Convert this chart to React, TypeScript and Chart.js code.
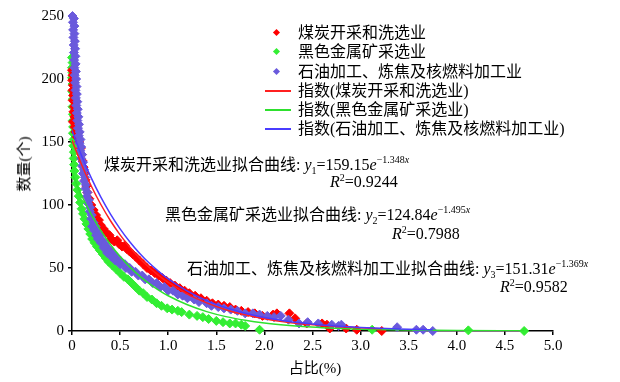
import React, { useEffect, useRef } from 'react';
import { Chart, registerables } from 'chart.js';

Chart.register(...registerables);

// ---- series names ----
const seriesNames = ['煤炭开采和洗选业', '黑色金属矿采选业', '石油加工、炼焦及核燃料加工业'];
const fitNames = ['指数(煤炭开采和洗选业)', '指数(黑色金属矿采选业)', '指数(石油加工、炼焦及核燃料加工业)'];
const fitCoef = ['159.15', '124.84', '151.31'];
const fitExp = ['1.348', '1.495', '1.369'];
const fitR2 = ['0.9244', '0.7988', '0.9582'];
const xTitle = '占比(%)';
const yTitle = '数量(个)';

// ---- scatter values [share %, count] ----
const coalPts: [number, number][] = [
  [0.0, 207], [0.006, 203], [0.002, 199], [0.01, 195], [0.005, 191], [0.012, 187], [0.008, 183], [0.02, 178],
  [0.015, 174], [0.025, 170], [0.01, 166], [0.028, 162], [0.035, 158], [0.05, 154], [0.075, 150], [0.09, 145],
  [0.1, 140], [0.11, 135], [0.12, 130], [0.13, 125], [0.14, 120], [0.15, 115], [0.16, 110], [0.18, 105],
  [0.2, 100], [0.225, 96], [0.25, 92], [0.28, 88], [0.3, 84], [0.33, 81], [0.36, 78], [0.39, 76],
  [0.41, 73], [0.44, 71], [0.47, 72], [0.49, 69], [0.52, 67], [0.55, 68], [0.57, 65], [0.6, 63],
  [0.63, 61], [0.66, 59], [0.7, 56], [0.74, 53], [0.78, 50], [0.82, 48], [0.86, 46], [0.9, 44],
  [0.94, 42], [0.98, 40], [1.02, 38], [1.07, 36], [1.12, 34], [1.17, 32], [1.22, 30], [1.28, 28],
  [1.34, 26], [1.4, 24], [1.46, 22], [1.52, 21], [1.58, 20], [1.64, 19], [1.7, 17], [1.76, 16],
  [1.83, 15], [1.9, 14], [1.98, 12], [2.09, 13], [2.13, 14], [2.26, 14], [2.32, 10], [2.44, 6],
  [2.6, 6], [2.65, 5], [2.68, 2], [2.85, 2], [2.96, 1], [3.22, 0],
];

const ironPts: [number, number][] = [
  [0.0, 217], [0.006, 213], [0.0, 209], [0.005, 205], [0.0, 201], [0.006, 196], [0.003, 190], [0.008, 184],
  [0.005, 178], [0.01, 172], [0.008, 167], [0.012, 162], [0.01, 157], [0.016, 152], [0.014, 147], [0.02, 142],
  [0.018, 137], [0.022, 132], [0.025, 127], [0.035, 122], [0.045, 117], [0.055, 112], [0.07, 107], [0.085, 102],
  [0.1, 97], [0.115, 93], [0.13, 89], [0.15, 85], [0.17, 81], [0.19, 77], [0.21, 73], [0.235, 70],
  [0.26, 67], [0.29, 64], [0.32, 61], [0.35, 58], [0.38, 55], [0.42, 52], [0.46, 49], [0.5, 46],
  [0.54, 43], [0.58, 41], [0.62, 38], [0.66, 35], [0.7, 32], [0.74, 30], [0.78, 27], [0.83, 25],
  [0.88, 22], [0.93, 20], [0.99, 18], [1.04, 17], [1.1, 16], [1.14, 15], [1.22, 13], [1.3, 12],
  [1.36, 11], [1.42, 9.5], [1.5, 8], [1.57, 7], [1.64, 6], [1.7, 6], [1.76, 5], [1.8, 4],
  [1.95, 1], [3.12, 1], [4.12, 0.5], [4.7, 0],
];

const petroPts: [number, number][] = [
  [0.005, 250], [0.02, 248], [0.01, 245], [0.025, 242], [0.012, 239], [0.025, 236], [0.015, 233], [0.03, 230],
  [0.018, 227], [0.032, 224], [0.02, 221], [0.035, 218], [0.022, 215], [0.037, 212], [0.025, 209], [0.04, 206],
  [0.028, 203], [0.043, 200], [0.032, 197], [0.047, 194], [0.036, 191], [0.05, 188], [0.04, 185], [0.055, 182],
  [0.045, 179], [0.06, 176], [0.05, 173], [0.066, 170], [0.056, 167], [0.072, 164], [0.062, 161], [0.08, 158],
  [0.07, 155], [0.088, 152], [0.078, 149], [0.096, 146], [0.086, 143], [0.105, 140], [0.095, 137], [0.115, 134],
  [0.105, 131], [0.125, 128], [0.115, 125], [0.135, 122], [0.125, 119], [0.145, 116], [0.14, 113], [0.16, 110],
  [0.155, 107], [0.175, 104], [0.17, 101], [0.19, 98], [0.185, 95], [0.205, 92], [0.2, 89], [0.225, 86],
  [0.21, 83], [0.245, 83], [0.23, 80], [0.265, 79], [0.25, 76], [0.29, 76], [0.27, 73], [0.315, 72],
  [0.3, 70], [0.345, 69], [0.33, 66], [0.38, 65], [0.365, 62], [0.42, 62], [0.41, 59], [0.46, 59],
  [0.45, 56], [0.5, 56], [0.5, 53], [0.55, 53], [0.56, 50], [0.6, 50], [0.62, 47], [0.66, 47],
  [0.69, 44], [0.73, 44], [0.76, 41], [0.8, 41], [0.84, 38], [0.88, 38], [0.92, 35], [0.96, 35],
  [1.0, 32], [1.05, 32], [1.1, 29], [1.15, 28], [1.2, 26], [1.27, 25], [1.32, 23], [1.4, 22],
  [1.45, 20], [1.52, 19], [1.58, 18], [1.65, 17], [1.72, 16], [1.8, 14], [1.88, 14], [1.95, 13],
  [2.03, 12], [2.1, 11], [2.17, 12], [2.25, 9], [2.36, 6], [2.45, 7], [2.56, 6], [2.7, 5],
  [2.77, 4], [2.8, 5], [3.38, 3], [3.58, 1], [3.65, 1], [3.75, 0],
];

// ---- fitted curves ----
const redFitX = [0, 0.1, 0.2, 0.3, 0.4, 0.5, 0.6, 0.7, 0.8, 0.9, 1.0, 1.2, 1.4, 1.6, 1.8, 2.0, 2.2, 2.4, 2.6, 2.8, 3.0, 3.22];
const redFitY = [151.3, 132.0, 115.1, 100.4, 87.5, 76.3, 66.6, 58.0, 50.6, 44.2, 38.5, 29.3, 22.3, 16.9, 12.9, 9.8, 7.4, 5.7, 4.3, 3.3, 2.5, 1.8];
const greenFitX = [0, 0.1, 0.2, 0.3, 0.4, 0.5, 0.6, 0.7, 0.8, 0.9, 1.0, 1.2, 1.4, 1.6, 1.8, 2.0, 2.2, 2.4, 2.6, 2.8, 3.0, 3.5, 4.0, 4.7];
const greenFitY = [124.8, 107.5, 92.6, 79.7, 68.7, 59.1, 50.9, 43.8, 37.8, 32.5, 28.0, 20.8, 15.4, 11.4, 8.5, 6.3, 4.7, 3.5, 2.6, 1.9, 1.4, 0.7, 0.3, 0.1];
const blueFitX = [0, 0.1, 0.2, 0.3, 0.4, 0.5, 0.6, 0.7, 0.8, 0.9, 1.0, 1.2, 1.4, 1.6, 1.8, 2.0, 2.2, 2.4, 2.6, 2.8, 3.0, 3.2, 3.4, 3.6, 3.75];
const blueFitY = [159.2, 139.1, 121.5, 106.2, 92.8, 81.1, 70.9, 62.0, 54.1, 47.3, 41.3, 31.6, 24.1, 18.4, 14.1, 10.7, 8.2, 6.3, 4.8, 3.7, 2.8, 2.1, 1.6, 1.2, 1.0];

const RED = '#ff0000';
const GREEN = '#33ee33';
const BLUE = '#6a5adc';
const RED_LINE = '#ff2020';
const GREEN_LINE = '#2ee02e';
const BLUE_LINE = '#4a3cff';

const SERIF = "'Liberation Serif', 'Times New Roman', 'Noto Sans CJK SC', serif";
const TICK_FAMILY = 'Liberation Serif';

const pairs = (xs: number[], ys: number[]) => xs.map((x, i) => ({ x, y: ys[i] }));
const pts = (arr: [number, number][]) => arr.map(([x, y]) => ({ x, y }));

function Equation({ left, top, idx }: { left: number; top: number; idx: number }) {
  return (
    <div style={{ position: 'absolute', left, top, fontSize: 16, lineHeight: '18px', whiteSpace: 'nowrap', fontFamily: SERIF, color: '#000' }}>
      {seriesNames[idx]}拟合曲线: <i>y</i>
      <span style={{ fontSize: 10, position: 'relative', top: 4 }}>{idx + 1}</span>={fitCoef[idx]}<i>e</i>
      <span style={{ fontSize: 10, position: 'relative', top: -7 }}>−{fitExp[idx]}<i>x</i></span>
    </div>
  );
}

function R2({ left, top, idx }: { left: number; top: number; idx: number }) {
  return (
    <div style={{ position: 'absolute', left, top, fontSize: 16, lineHeight: '18px', whiteSpace: 'nowrap', fontFamily: SERIF, color: '#000' }}>
      <i>R</i>
      <span style={{ fontSize: 10, position: 'relative', top: -6 }}>2</span>={fitR2[idx]}
    </div>
  );
}

export default function App() {
  const ref = useRef<HTMLCanvasElement>(null);

  useEffect(() => {
    if (!ref.current) return;
    const tickFont = { family: TICK_FAMILY, size: 15 };
    const scatterBase = { pointStyle: 'rectRot' as const, pointRadius: 4.5, pointHoverRadius: 4.5, borderWidth: 1, showLine: false, clip: false as const };
    const lineBase = { showLine: true, pointRadius: 0, borderWidth: 1.5, cubicInterpolationMode: 'monotone' as const, fill: false, order: 0 };
    const chart = new Chart(ref.current, {
      type: 'scatter',
      data: {
        datasets: [
          { ...lineBase, label: fitNames[0], data: pairs(blueFitX, blueFitY), borderColor: BLUE_LINE, backgroundColor: BLUE_LINE },
          { ...lineBase, label: fitNames[2], data: pairs(redFitX, redFitY), borderColor: RED_LINE, backgroundColor: RED_LINE },
          { ...lineBase, label: fitNames[1], data: pairs(greenFitX, greenFitY), borderColor: GREEN_LINE, backgroundColor: GREEN_LINE },
          { ...scatterBase, label: seriesNames[2], data: pts(petroPts), backgroundColor: BLUE, borderColor: BLUE, order: 1 },
          { ...scatterBase, label: seriesNames[0], data: pts(coalPts), backgroundColor: RED, borderColor: RED, order: 2 },
          { ...scatterBase, label: seriesNames[1], data: pts(ironPts), backgroundColor: GREEN, borderColor: GREEN, order: 3 },
        ] as any,
      },
      options: {
        responsive: false,
        animation: false,
        layout: { padding: { top: 16, right: 67, left: 0, bottom: 0 } },
        plugins: { legend: { display: false }, tooltip: { enabled: false } },
        scales: {
          x: {
            type: 'linear',
            min: 0,
            max: 5,
            ticks: {
              stepSize: 0.5,
              color: '#000',
              font: tickFont,
              padding: 2,
              maxRotation: 0,
              autoSkip: false,
              callback: (v: any) => (Number(v) === 0 ? '0' : Number(v).toFixed(1)),
            },
            grid: { drawOnChartArea: false, drawTicks: true, tickLength: 4, color: '#000', lineWidth: 1.5 },
            border: { display: true, color: '#000', width: 1.5 },
            afterFit: (s: any) => { s.height = 51; },
          },
          y: {
            min: 0,
            max: 250,
            ticks: { stepSize: 50, color: '#000', font: tickFont, padding: 4 },
            grid: { drawOnChartArea: false, drawTicks: true, tickLength: 4, color: '#000', lineWidth: 1.5 },
            border: { display: true, color: '#000', width: 1.5 },
            afterFit: (s: any) => { s.width = 72; },
          },
        },
      },
    });
    return () => chart.destroy();
  }, []);

  const legendRows = [
    { kind: 'pt', color: RED, text: seriesNames[0], y: 33 },
    { kind: 'pt', color: GREEN, text: seriesNames[1], y: 52 },
    { kind: 'pt', color: BLUE, text: seriesNames[2], y: 72 },
    { kind: 'ln', color: RED_LINE, text: fitNames[0], y: 91 },
    { kind: 'ln', color: GREEN_LINE, text: fitNames[1], y: 110 },
    { kind: 'ln', color: BLUE_LINE, text: fitNames[2], y: 129 },
  ];

  return (
    <div style={{ position: 'absolute', left: 0, top: 0, width: 620, height: 382, background: '#fff', overflow: 'hidden' }}>
      <canvas ref={ref} width={620} height={382} style={{ position: 'absolute', left: 0, top: 0, width: 620, height: 382 }} />
      {legendRows.map((r, i) => (
        <React.Fragment key={i}>
          {r.kind === 'pt' ? (
            <div style={{ position: 'absolute', left: 274, top: r.y - 3, width: 5, height: 5, background: r.color, transform: 'rotate(45deg)' }} />
          ) : (
            <div style={{ position: 'absolute', left: 265, top: r.y - 1, width: 26, height: 1.5, background: r.color }} />
          )}
          <div style={{ position: 'absolute', left: 298, top: r.y - 9, fontSize: 16, lineHeight: '18px', whiteSpace: 'nowrap', fontFamily: SERIF, color: '#000' }}>
            {r.text}
          </div>
        </React.Fragment>
      ))}
      <Equation left={104} top={156} idx={0} />
      <R2 left={330} top={173} idx={0} />
      <Equation left={165} top={206} idx={1} />
      <R2 left={392} top={225} idx={1} />
      <Equation left={187} top={260} idx={2} />
      <R2 left={500} top={278} idx={2} />
      <div style={{ position: 'absolute', left: 24, top: 164, transform: 'translate(-50%, -50%) rotate(-90deg)', fontSize: 15, lineHeight: '18px', whiteSpace: 'nowrap', fontFamily: SERIF, color: '#000' }}>
        {yTitle}
      </div>
      <div style={{ position: 'absolute', left: 315, top: 368, transform: 'translate(-50%, -50%)', fontSize: 15, lineHeight: '18px', whiteSpace: 'nowrap', fontFamily: SERIF, color: '#000' }}>
        {xTitle}
      </div>
    </div>
  );
}
